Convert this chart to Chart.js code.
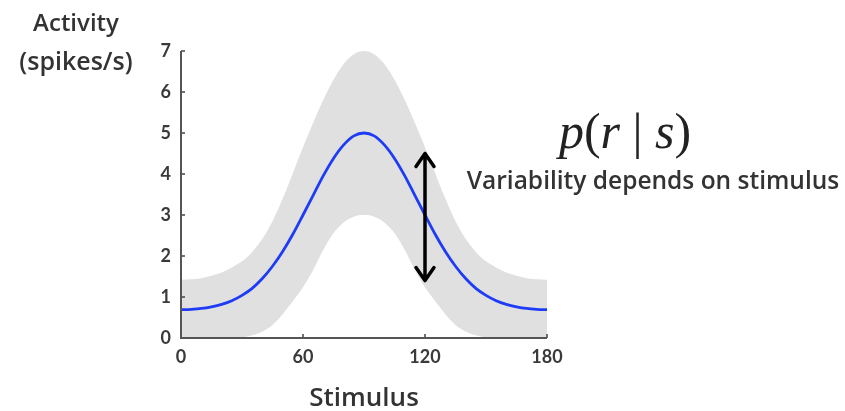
<!DOCTYPE html>
<html>
<head>
<meta charset="utf-8">
<script src="https://cdn.jsdelivr.net/npm/chart.js@4.4.1/dist/chart.umd.min.js"></script>
<style>
  html, body { margin: 0; padding: 0; background: #fff; }
</style>
</head>
<body>
<canvas id="tuningChart" width="845" height="411"></canvas>
<script>
// stimulus angle (deg) and firing rate (spikes/s)
const stimulus = [0, 5, 10, 15, 20, 25, 30, 35, 40, 45, 50, 55, 60, 65, 70, 75, 80, 85, 90,
                  95, 100, 105, 110, 115, 120, 125, 130, 135, 140, 145, 150, 155, 160, 165, 170, 175, 180];
const meanRate = [0.69, 0.70, 0.72, 0.76, 0.82, 0.91, 1.04, 1.21, 1.45, 1.75, 2.11, 2.53, 3.0, 3.48, 3.96, 4.38, 4.71, 4.93, 5.0,
                  4.93, 4.71, 4.38, 3.96, 3.48, 3.0, 2.53, 2.11, 1.75, 1.45, 1.21, 1.04, 0.91, 0.82, 0.76, 0.72, 0.70, 0.69];
const upperRate = [1.42, 1.43, 1.46, 1.52, 1.60, 1.72, 1.87, 2.10, 2.42, 2.85, 3.40, 4.02, 4.65, 5.25, 5.81, 6.30, 6.68, 6.92, 7.0,
                   6.92, 6.68, 6.30, 5.81, 5.25, 4.65, 4.02, 3.40, 2.85, 2.42, 2.10, 1.87, 1.72, 1.60, 1.52, 1.46, 1.43, 1.42];
const lowerRate = [0, 0, 0, 0, 0, 0, 0.02, 0.07, 0.16, 0.32, 0.58, 0.90, 1.24, 1.66, 2.15, 2.56, 2.82, 2.96, 3.0,
                   2.96, 2.82, 2.56, 2.15, 1.66, 1.24, 0.90, 0.58, 0.32, 0.16, 0.07, 0.02, 0, 0, 0, 0, 0, 0];

const xTicks = [0, 60, 120, 180];
const yTicks = [0, 1, 2, 3, 4, 5, 6, 7];

// double arrow showing the spread at one stimulus
const arrowAt = 120;
const arrowFrom = 1.4;
const arrowTo = 4.5;

const toPoints = vals => stimulus.map((s, i) => ({ x: s, y: vals[i] }));

const overlay = {
  id: 'overlay',
  afterDatasetsDraw(chart) {
    const { ctx, chartArea: a, scales: { x, y } } = chart;
    ctx.save();

    // small inward tick marks
    ctx.strokeStyle = '#444';
    ctx.lineWidth = 1.5;
    ctx.beginPath();
    yTicks.forEach(v => {
      const py = y.getPixelForValue(v);
      ctx.moveTo(a.left, py);
      ctx.lineTo(a.left + 4, py);
    });
    xTicks.forEach(v => {
      const px = x.getPixelForValue(v);
      ctx.moveTo(px, a.bottom);
      ctx.lineTo(px, a.bottom - 4);
    });
    ctx.stroke();

    // axis lines on top of the band
    ctx.strokeStyle = '#555';
    ctx.lineWidth = 2;
    ctx.beginPath();
    ctx.moveTo(a.left, a.top);
    ctx.lineTo(a.left, a.bottom);
    ctx.lineTo(a.right, a.bottom);
    ctx.stroke();

    // arrow
    const ax = x.getPixelForValue(arrowAt);
    const yLo = y.getPixelForValue(arrowFrom);
    const yHi = y.getPixelForValue(arrowTo);
    ctx.strokeStyle = '#000';
    ctx.lineWidth = 3.5;
    ctx.lineCap = 'round';
    ctx.lineJoin = 'round';
    ctx.beginPath();
    ctx.moveTo(ax, yHi);
    ctx.lineTo(ax, yLo);
    ctx.moveTo(ax - 9, yHi + 13);
    ctx.lineTo(ax, yHi);
    ctx.lineTo(ax + 9, yHi + 13);
    ctx.moveTo(ax - 9, yLo - 13);
    ctx.lineTo(ax, yLo);
    ctx.lineTo(ax + 9, yLo - 13);
    ctx.stroke();
    ctx.restore();
  },
  afterDraw(chart) {
    const { ctx, chartArea: a } = chart;
    ctx.save();
    ctx.fillStyle = '#333';
    ctx.textAlign = 'center';
    ctx.textBaseline = 'middle';

    ctx.font = '600 24px "Open Sans"';
    ctx.fillText('Activity', 76, 24);
    ctx.font = '600 25px "Open Sans"';
    ctx.fillText('(spikes/s)', 76, 63);
    ctx.font = '600 26px "Open Sans"';
    ctx.fillText('Stimulus', (a.left + a.right) / 2, 399);

    ctx.font = '600 24.5px "Open Sans"';
    ctx.fillText('Variability depends on stimulus', 653, 182, 374);

    // p(r | s)
    const parts = [
      ['p', 'italic'], ['(', 'normal'], ['r', 'italic'], [' | ', 'normal'], ['s', 'italic'], [')', 'normal']
    ];
    const size = 50;
    let total = 0;
    parts.forEach(([t, st]) => {
      ctx.font = st + ' ' + size + 'px "Liberation Serif"';
      total += ctx.measureText(t).width;
    });
    let cx = 625 - total / 2;
    ctx.textAlign = 'left';
    ctx.textBaseline = 'alphabetic';
    ctx.fillStyle = '#222';
    parts.forEach(([t, st]) => {
      ctx.font = st + ' ' + size + 'px "Liberation Serif"';
      ctx.fillText(t, cx, 148);
      cx += ctx.measureText(t).width;
    });
    ctx.restore();
  }
};

new Chart(document.getElementById('tuningChart'), {
  type: 'line',
  data: {
    datasets: [
      {
        label: 'upper',
        data: toPoints(upperRate),
        order: 2,
        borderWidth: 0,
        pointRadius: 0,
        backgroundColor: 'rgb(224, 224, 224)',
        fill: '+1',
        cubicInterpolationMode: 'monotone'
      },
      {
        label: 'lower',
        data: toPoints(lowerRate),
        order: 2,
        borderWidth: 0,
        pointRadius: 0,
        fill: false,
        cubicInterpolationMode: 'monotone'
      },
      {
        label: 'mean',
        data: toPoints(meanRate),
        order: 1,
        borderColor: 'rgb(30, 60, 245)',
        borderWidth: 2.8,
        pointRadius: 0,
        fill: false,
        cubicInterpolationMode: 'monotone'
      }
    ]
  },
  options: {
    responsive: false,
    devicePixelRatio: 1,
    animation: false,
    layout: { padding: { left: 0, top: 51, right: 298, bottom: 0 } },
    plugins: { legend: { display: false }, tooltip: { enabled: false } },
    scales: {
      x: {
        type: 'linear',
        min: 0,
        max: 180,
        afterBuildTicks: scale => { scale.ticks = xTicks.map(v => ({ value: v })); },
        afterFit: scale => { scale.height = 73; },
        grid: { display: false, drawTicks: false },
        border: { display: false },
        ticks: { padding: 8, color: '#3a3a3a', font: { family: 'Lato', size: 18, weight: 'bold' }, maxRotation: 0 }
      },
      y: {
        min: 0,
        max: 7,
        afterBuildTicks: scale => { scale.ticks = yTicks.map(v => ({ value: v })); },
        afterFit: scale => { scale.width = 181; },
        grid: { display: false, drawTicks: false },
        border: { display: false },
        ticks: { padding: 10, color: '#3a3a3a', font: { family: 'Lato', size: 18, weight: 'bold' } }
      }
    }
  },
  plugins: [overlay]
});
</script>
</body>
</html>
